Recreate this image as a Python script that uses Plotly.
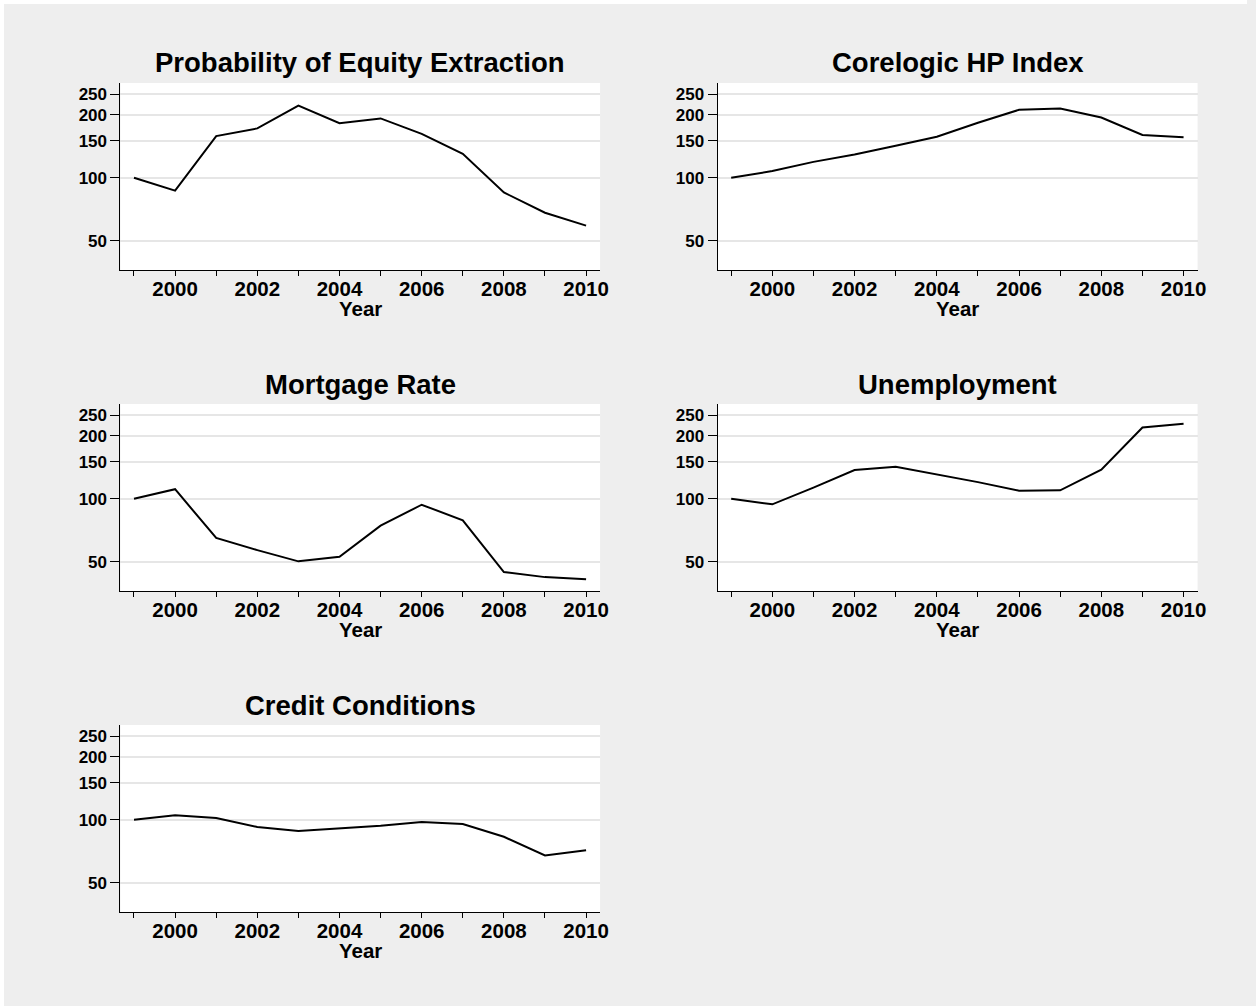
import plotly.graph_objects as go

# Index levels (1999 = 100) by year for each series
years = [1999, 2000, 2001, 2002, 2003, 2004, 2005, 2006, 2007, 2008, 2009, 2010]

equity_extraction = [100, 86.7, 158, 172, 221, 182, 192, 162, 130, 85, 68, 59]
corelogic_hp = [100, 107.6, 119, 129, 142, 157, 183, 211, 214, 194, 160, 156]
mortgage_rate = [100, 111, 64.9, 56.8, 50.2, 52.8, 74.3, 93.6, 78.8, 44.6, 42.2, 41.2]
unemployment = [100, 94, 112.9, 137, 142, 131, 120, 109.2, 109.6, 137.6, 219, 228]
credit_conditions = [100, 105, 102, 92.2, 88.3, 90.6, 93.6, 97.5, 95.3, 82.9, 67.5, 71.4]

panel_titles = ["Probability of Equity Extraction", "Corelogic HP Index",
                "Mortgage Rate", "Unemployment", "Credit Conditions"]
panel_series = [equity_extraction, corelogic_hp, mortgage_rate, unemployment, credit_conditions]

y_ticks = [50, 100, 150, 200, 250]
x_tick_labels = [str(y) if y % 2 == 0 else "" for y in years]
x_title = "Year"

W, H = 1256, 1006
FONT = "Liberation Sans, Arial, sans-serif"

# Plot-area geometry in pixels: (left, right) per column, (top, bottom) per row
cols = [(121.3, 604.4), (722.8, 1206.2)]
rows = [(83.0, 270.0), (404.0, 591.0), (725.0, 912.0)]
placement = [(0, 0), (0, 1), (1, 0), (1, 1), (2, 0)]

fig = go.Figure()
layout = dict(
    width=W, height=H, autosize=False,
    margin=dict(l=0, r=0, t=0, b=0),
    paper_bgcolor="#eeeeee", plot_bgcolor="#ffffff",
    showlegend=False,
    font=dict(family=FONT, color="#000000"),
)
annotations = []

for i, (title, vals) in enumerate(zip(panel_titles, panel_series)):
    r, c = placement[i]
    n = "" if i == 0 else str(i + 1)
    x0, x1 = cols[c]
    top, bot = rows[r]
    fig.add_trace(go.Scatter(
        x=years, y=vals, mode="lines",
        line=dict(color="#000000", width=2),
        xaxis="x" + n, yaxis="y" + n, hoverinfo="skip",
    ))
    layout["xaxis" + n] = dict(
        domain=[x0 / W, x1 / W], anchor="y" + n,
        range=[1998.67, 2010.34],
        tickmode="array", tickvals=years, ticktext=x_tick_labels,
        ticks="outside", ticklen=5, tickwidth=1, tickcolor="#000000",
        ticklabelstandoff=-5,
        showline=True, linecolor="#000000", linewidth=1,
        showgrid=False, zeroline=False,
        tickfont=dict(family=FONT, size=20.5, weight="bold", color="#000000"),
    )
    layout["yaxis" + n] = dict(
        domain=[1 - bot / H, 1 - top / H], anchor="x" + n,
        type="log", range=[1.559, 2.4525],
        tickmode="array", tickvals=y_ticks, ticktext=[str(v) for v in y_ticks],
        ticks="outside", ticklen=9, tickwidth=1, tickcolor="#000000",
        showline=True, linecolor="#000000", linewidth=1,
        showgrid=True, gridcolor="#e6e6e6", gridwidth=2, zeroline=False,
        tickfont=dict(family=FONT, size=17, weight="bold", color="#000000"),
    )
    cx = (x0 + x1) / 2
    annotations.append(dict(
        text=title, x=cx / W, y=1 - (top - 20) / H, xref="paper", yref="paper",
        xanchor="center", yanchor="middle", showarrow=False,
        font=dict(family=FONT, size=27.5, weight="bold", color="#000000"),
    ))
    annotations.append(dict(
        text=x_title, x=cx / W, y=1 - (bot + 38) / H, xref="paper", yref="paper",
        xanchor="center", yanchor="middle", showarrow=False,
        font=dict(family=FONT, size=20.5, weight="bold", color="#000000"),
    ))

layout["annotations"] = annotations
# thin white strip along the top and left edges of the canvas
layout["shapes"] = [
    dict(type="rect", xref="paper", yref="paper", x0=0, x1=1, y0=1 - 4 / H, y1=1,
         fillcolor="#ffffff", line=dict(width=0), layer="below"),
    dict(type="rect", xref="paper", yref="paper", x0=0, x1=4 / W, y0=0, y1=1,
         fillcolor="#ffffff", line=dict(width=0), layer="below"),
]
fig.update_layout(**layout)
fig.write_html("out.html")
